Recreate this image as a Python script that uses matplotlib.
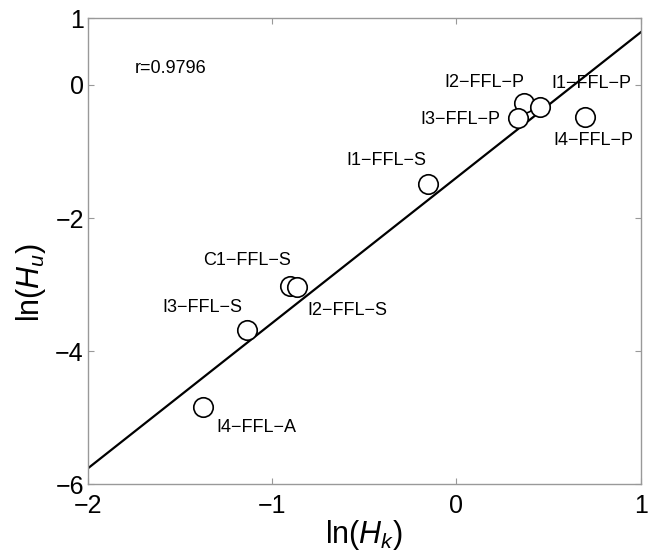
import matplotlib
matplotlib.use('Agg')
import matplotlib.pyplot as plt
import numpy as np

plt.rcParams['font.family'] = ['Liberation Sans', 'DejaVu Sans']
plt.rcParams['mathtext.fontset'] = 'custom'
plt.rcParams['mathtext.rm'] = 'Liberation Sans'
plt.rcParams['mathtext.it'] = 'Liberation Sans:italic'

# motif data (ln Hk, ln Hu)
names = ['I2−FFL−P', 'I1−FFL−P', 'I3−FFL−P', 'I4−FFL−P', 'I1−FFL−S',
         'C1−FFL−S', 'I2−FFL−S', 'I3−FFL−S', 'I4−FFL−A']
ln_hk = [0.364, 0.452, 0.335, 0.696, -0.157, -0.906, -0.865, -1.138, -1.378]
ln_hu = [-0.274, -0.326, -0.500, -0.489, -1.484, -3.016, -3.037, -3.684, -4.842]
label_x = [0.15, 0.73, 0.023, 0.741, -0.38, -1.136, -0.59, -1.38, -1.086]
label_y = [0.037, 0.026, -0.526, -0.842, -1.142, -2.632, -3.384, -3.342, -5.142]

fit_slope = 2.183
fit_icpt = -1.393
r_text = 'r=0.9796'

fig = plt.figure(figsize=(6.5, 5.53), dpi=100)
ax = fig.add_axes([0.1354, 0.1242, 0.8503, 0.8427])

xs = np.array([-2, 1])
ax.plot(xs, fit_icpt + fit_slope * xs, color='black', lw=1.6, zorder=2)
ax.plot(ln_hk, ln_hu, 'o', mfc='white', mec='black', ms=14, mew=1.2, zorder=3)

for n, tx, ty in zip(names, label_x, label_y):
    ax.text(tx, ty, n, fontsize=13, ha='center', va='center', zorder=4)
ax.text(-1.745, 0.247, r_text, fontsize=13, ha='left', va='center')

ax.set_xlim(-2, 1)
ax.set_ylim(-6, 1)
ax.set_xticks([-2, -1, 0, 1])
ax.set_yticks([-6, -4, -2, 0, 1])
ax.set_xticklabels(['−2', '−1', '0', '1'])
ax.set_yticklabels(['−6', '−4', '−2', '0', '1'])
ax.tick_params(direction='in', top=True, right=True, length=4, color='#999999',
               labelsize=18, labelcolor='black')
ax.tick_params(axis='x', pad=7)
ax.tick_params(axis='y', pad=3)
for s in ax.spines.values():
    s.set_color('#999999')
    s.set_linewidth(1.0)

ax.set_xlabel('ln($H_k$)', fontsize=22, labelpad=0)
ax.set_ylabel('ln($H_u$)', fontsize=22)
ax.yaxis.set_label_coords(-0.072, 0.434)

fig.savefig('out.png', dpi=100)
